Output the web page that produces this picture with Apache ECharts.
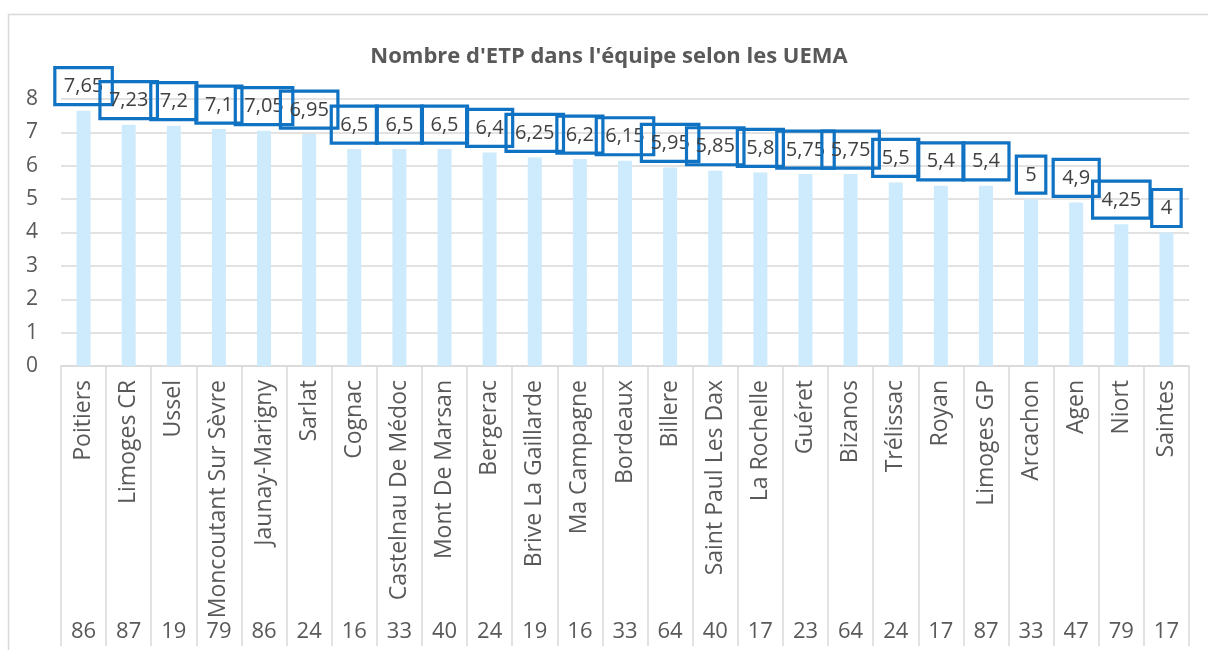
<!DOCTYPE html>
<html>
<head>
<meta charset="utf-8">
<script src="https://cdn.jsdelivr.net/npm/echarts@6/dist/echarts.min.js"></script>
<style>
html,body{margin:0;padding:0;background:#fff;}
#chart{width:1208px;height:650px;}
</style>
</head>
<body>
<div id="chart"></div>
<script>
const titleText = "Nombre d'ETP dans l'équipe selon les UEMA";
const cities = ["Poitiers","Limoges CR","Ussel","Moncoutant Sur Sèvre","Jaunay-Marigny","Sarlat","Cognac","Castelnau De Médoc","Mont De Marsan","Bergerac","Brive La Gaillarde","Ma Campagne","Bordeaux","Billere","Saint Paul Les Dax","La Rochelle","Guéret","Bizanos","Trélissac","Royan","Limoges GP","Arcachon","Agen","Niort","Saintes"];
const etp = [7.65,7.23,7.2,7.1,7.05,6.95,6.5,6.5,6.5,6.4,6.25,6.2,6.15,5.95,5.85,5.8,5.75,5.75,5.5,5.4,5.4,5,4.9,4.25,4];
const depts = ["86","87","19","79","86","24","16","33","40","24","19","16","33","64","40","17","23","64","24","17","87","33","47","79","17"];
const yTicks = [0,1,2,3,4,5,6,7,8];

const FONT = "Open Sans";
const chart = echarts.init(document.getElementById('chart'), null, {renderer:'canvas'});
chart.setOption({
  animation:false,
  textStyle:{fontFamily:FONT},
  title:{
    text:titleText, left:604, top:41, textAlign:'center',
    textStyle:{fontFamily:FONT,fontSize:22,fontWeight:'bold',color:'#595959'}
  },
  graphic:[{
    type:'rect', shape:{x:8.5,y:14.5,width:1400,height:800},
    style:{fill:'none',stroke:'#D9D9D9',lineWidth:1.5}, silent:true, z:-10
  }],
  grid:{left:61,right:19,top:99,bottom:284,containLabel:false,outerBoundsMode:'none'},
  xAxis:[{
    type:'category', data:cities, position:'bottom',
    axisLine:{show:true,lineStyle:{color:'#D9D9D9',width:1.5}},
    axisTick:{show:true,interval:0,length:280,lineStyle:{color:'#D9D9D9',width:1.5}},
    axisLabel:{show:true,interval:0,rotate:90,margin:14,fontSize:23,color:'#595959',fontFamily:FONT,hideOverlap:false}
  },{
    type:'category', data:depts, position:'bottom',
    axisLine:{show:false}, axisTick:{show:false},
    axisLabel:{interval:0,margin:255,fontSize:22,color:'#595959',fontFamily:FONT}
  }],
  yAxis:{
    type:'value', min:yTicks[0], max:yTicks[yTicks.length-1], interval:1,
    axisLine:{show:false}, axisTick:{show:false},
    splitLine:{lineStyle:{color:'#D9D9D9',width:1.5}},
    axisLabel:{margin:23,fontSize:21,color:'#595959',fontFamily:FONT}
  },
  series:[{
    type:'bar', data:etp, barWidth:14, xAxisIndex:0,
    itemStyle:{color:'#CDEBFC'},
    label:{
      show:true, position:'top', distance:6,
      formatter:p=>String(p.value).replace('.',','),
      fontFamily:FONT, fontSize:20, color:'#404040',
      borderColor:'#0F72C2', borderWidth:1.6, padding:[9,9,8,9],
      backgroundColor:'transparent'
    }
  }]
});
</script>
</body>
</html>
